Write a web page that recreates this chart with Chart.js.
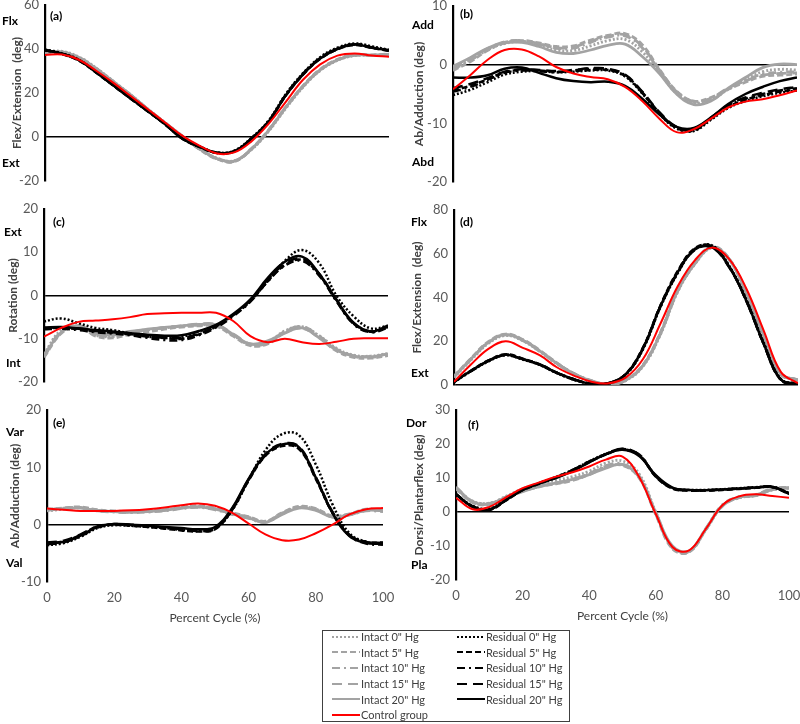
<!DOCTYPE html>
<html>
<head>
<meta charset="utf-8">
<script src="https://cdn.jsdelivr.net/npm/chart.js@4.4.0/dist/chart.umd.min.js"></script>
<style>
  body { margin: 0; background: #fff; }
  #wrap { position: relative; width: 800px; height: 724px; overflow: hidden; }
  #wrap canvas { position: absolute; left: 0; top: 0; }
  #legend {
    position: absolute; left: 322px; top: 630px; width: 246px; height: 90px;
    border: 1px solid #404040; font: 11px Lato, "Liberation Sans", sans-serif; color: #404040;
  }
  #legend .grid { display: grid; grid-template-columns: 125px 120px; margin-top: -2px; padding-left: 9px; }
  #legend .item { display: flex; align-items: center; height: 15.6px; white-space: nowrap; }
  #legend svg { margin-right: 1px; }
</style>
</head>
<body>
<div id="wrap">
  <div id="legend"><div class="grid"></div></div>
</div>
<script>
const percentCycle = [0, 5, 10, 15, 20, 25, 30, 35, 40, 45, 50, 55, 60, 65, 70, 75, 80, 85, 90, 95, 100];
const seriesNames = ['Intact 0" Hg', 'Intact 5" Hg', 'Intact 10" Hg', 'Intact 15" Hg', 'Intact 20" Hg',
  'Residual 0" Hg', 'Residual 5" Hg', 'Residual 10" Hg', 'Residual 15" Hg', 'Residual 20" Hg', 'Control group'];

// (a) Flex/Extension
const aIntact0 = [38.8, 38.9, 36.3, 31.2, 25.2, 19.1, 12.6, 6.4, 0.4, -5.3, -9.6, -10.8, -5.8, 2.6, 13, 22.6, 30.2, 34.8, 37, 37.1, 37.5];
const aIntact5 = [38.3, 38.5, 35.8, 30.8, 24.8, 18.8, 12.3, 6.1, 0.1, -5.7, -10, -11.2, -5.3, 3.2, 13.7, 23.3, 30.8, 35.3, 37.4, 37.3, 37.7];
const aIntact10 = [38.6, 38.6, 36.1, 31.1, 25.1, 19, 12.4, 6.2, 0.2, -5.6, -9.9, -11.1, -5.6, 2.9, 13.4, 22.9, 30.4, 35.1, 37.3, 37.2, 37.5];
const aIntact15 = [38.4, 38.6, 35.9, 30.9, 24.9, 18.9, 12.5, 6.4, 0.3, -5.4, -9.7, -10.9, -5.4, 3.1, 13.6, 23.1, 30.6, 35, 37.1, 37.1, 37.6];
const aIntact20 = [38.5, 38.7, 36, 31, 25, 19, 12.5, 6.3, 0.3, -5.5, -9.8, -11, -5.5, 3, 13.5, 23, 30.5, 35, 37.2, 37.2, 37.6];
const aResidual0 = [39.8, 38, 35, 29.4, 23.5, 17.6, 11.8, 5.9, -0.6, -4.3, -7, -6.2, -0.4, 7.5, 19.5, 29, 36.3, 40.6, 42.5, 41.2, 39.6];
const aResidual5 = [39.4, 37.7, 34.6, 29.1, 23.2, 17.3, 11.5, 5.6, -0.9, -4.6, -7.3, -6.6, -0.9, 6.9, 18.8, 28.3, 35.5, 39.8, 41.8, 40.5, 39.2];
const aResidual10 = [39.6, 37.9, 34.7, 29.3, 23.4, 17.5, 11.7, 5.8, -0.7, -4.4, -7.1, -6.4, -0.7, 7.2, 19.2, 28.7, 35.9, 40.2, 42.2, 40.8, 39.4];
const aResidual15 = [39.5, 37.8, 34.8, 29.2, 23.3, 17.4, 11.6, 5.7, -0.8, -4.5, -7.2, -6.5, -0.8, 7.1, 19.1, 28.6, 35.8, 40.1, 42.1, 40.7, 39.3];
const aResidual20 = [39.5, 37.8, 34.8, 29.2, 23.3, 17.4, 11.6, 5.7, -0.8, -4.5, -7.2, -6.5, -0.8, 7, 19, 28.5, 35.7, 40, 42, 40.6, 39.3];
const aControl = [37.3, 37.5, 35, 30, 24.5, 18.5, 12.5, 6.5, 0.5, -4, -7.5, -7, -2, 6, 16, 26, 33, 37, 38, 37, 36.5];

// (b) Ab/Adduction
const bIntact0 = [-0.5, 0.8, 2.5, 3.6, 3.9, 3.3, 2.5, 2.4, 3.2, 4.1, 4.3, 2.2, -1.3, -4.9, -6.5, -6, -4.2, -2.6, -1.2, -0.8, -0.9];
const bIntact5 = [-1, 0.5, 2.4, 3.7, 4.1, 3.7, 3.1, 3.2, 4.2, 5, 5.3, 3.4, -0.8, -4.5, -6.2, -5.6, -4.2, -3, -2, -1.8, -1.6];
const bIntact10 = [-0.8, 0.7, 2.6, 3.8, 4, 3.5, 2.8, 2.8, 3.8, 4.7, 4.9, 2.9, -1, -4.7, -6.3, -5.8, -4.1, -2.7, -1.6, -1.3, -1.2];
const bIntact15 = [-0.6, 0.9, 2.7, 3.9, 4.1, 3.6, 2.9, 3, 4, 4.8, 5.1, 3.1, -0.9, -4.6, -6.3, -5.7, -4, -2.8, -1.8, -1.5, -1.4];
const bIntact20 = [-0.3, 1.2, 2.8, 3.7, 3.8, 3.1, 2.1, 1.9, 2.5, 3.3, 3.5, 1.4, -1.5, -5, -6.8, -6.2, -4, -2.2, -0.5, 0.1, 0];
const bResidual0 = [-5.2, -4.3, -3, -1.7, -1.2, -1.1, -1.3, -1.2, -1, -1, -2, -4.9, -8.4, -10.9, -11.3, -9.4, -7.4, -6.2, -5.4, -4.8, -4.4];
const bResidual5 = [-4.4, -3.6, -2.5, -1.3, -0.9, -1, -1.2, -1.1, -0.9, -0.9, -1.9, -4.8, -8.3, -10.8, -11.2, -9.2, -7.2, -6, -5.2, -4.6, -4.2];
const bResidual10 = [-4.6, -3.8, -2.6, -1.4, -1, -1.1, -1.3, -1, -0.7, -0.8, -1.8, -4.7, -8.2, -10.7, -11.1, -9.1, -7, -5.8, -5, -4.4, -4];
const bResidual15 = [-4, -3.3, -2.3, -1.2, -0.8, -0.9, -1.1, -0.9, -0.6, -0.7, -1.7, -4.6, -8.1, -10.6, -11, -9, -6.9, -5.6, -4.8, -4.2, -3.8];
const bResidual20 = [-2.2, -2.2, -1.8, -0.7, -0.5, -1.4, -2.3, -2.8, -3, -2.9, -3.6, -5.8, -8.5, -10.6, -10.8, -9, -6.7, -5, -3.8, -2.8, -2.2];
const bControl = [-4.2, -1.8, 0.8, 2.5, 2.6, 1.4, -0.4, -1.5, -2.1, -2.5, -3.8, -6.2, -9.2, -11.5, -11, -9.2, -7.3, -6.3, -5.9, -5.2, -4.4];

// (c) Rotation
const cIntact0 = [-13.5, -8, -7.2, -9.2, -9.5, -8.6, -8, -7.5, -7.1, -6.8, -7, -9.2, -11.4, -10.8, -8.2, -7.2, -9.3, -12.2, -13.8, -14, -13.4];
const cIntact5 = [-14.3, -8.8, -7.1, -9.4, -9.8, -9, -8.4, -7.8, -7.3, -7, -7.1, -9.4, -11.6, -11.2, -8.6, -7.6, -9.8, -12.8, -14.3, -14.5, -13.9];
const cIntact10 = [-14.1, -8.6, -7, -9, -9.3, -8.5, -7.9, -7.5, -7.1, -6.8, -6.9, -9.1, -11.4, -11, -8.4, -7.3, -9.5, -12.5, -14.1, -14.3, -13.7];
const cIntact15 = [-13.8, -8.4, -6.9, -8.9, -9.1, -8.4, -7.9, -7.4, -7, -6.6, -6.7, -8.9, -11.2, -10.9, -8.3, -7.2, -9.4, -12.4, -13.9, -14.1, -13.5];
const cIntact20 = [-14, -8.5, -7, -8.8, -9, -8.3, -7.8, -7.4, -7, -6.7, -6.8, -9, -11.2, -10.5, -8.7, -7.5, -9.8, -12.6, -14, -14.2, -13.5];
const cResidual0 = [-6, -5.3, -6.4, -7.5, -8, -8.8, -9.5, -9.8, -9.6, -8.3, -6.9, -4.5, -1.2, 3.3, 8, 10.5, 7.5, 0, -4.8, -7.6, -7];
const cResidual5 = [-7.6, -7.5, -7.8, -8.3, -8.6, -9, -9.5, -9.8, -10, -9, -7.2, -4.6, -1.3, 3.3, 7, 8.2, 4.8, -1.2, -6.5, -8.4, -7.3];
const cResidual10 = [-7.8, -7.7, -8, -8.5, -8.8, -9.2, -9.8, -10.3, -10.3, -9.2, -7.4, -4.8, -1.4, 3.2, 6.9, 8, 4.6, -1.3, -6.6, -8.5, -7.5];
const cResidual15 = [-7.5, -7.4, -7.7, -8.2, -8.5, -8.9, -9.4, -9.7, -9.8, -8.8, -7.1, -4.5, -1.1, 3.6, 7.3, 8.5, 5, -1, -6.4, -8.3, -7.2];
const cResidual20 = [-7.4, -7.3, -7.6, -8, -8.3, -8.7, -9.1, -9.3, -9.2, -8.2, -6.8, -4.3, -0.9, 4, 7.8, 9, 5, -1, -6.3, -8.3, -7];
const cControl = [-9.5, -7.5, -6.1, -5.8, -5.5, -5, -4.3, -4.1, -4, -4, -4, -5.9, -9.4, -10.8, -10, -10.8, -11.2, -10.7, -10, -9.9, -9.9];

// (d) Flex/Extension
const dIntact0 = [3.5, 11.5, 19, 22.6, 20.2, 15.2, 9.6, 4.8, 1.6, 0.2, 2.1, 8.6, 23, 42.5, 55.2, 62.6, 57.2, 42.3, 23.3, 5.3, 2];
const dIntact5 = [4, 12.3, 19.8, 23.3, 20.8, 15.8, 10, 5.2, 2, 0.4, 2.5, 9.3, 24, 43.5, 55.8, 63.3, 57.7, 41.8, 22.7, 4.8, 2.5];
const dIntact10 = [3.9, 12.1, 19.6, 23.1, 20.6, 15.6, 9.9, 5.1, 1.9, 0.3, 2.4, 9.1, 23.7, 43.2, 55.6, 63.1, 57.6, 41.9, 22.9, 4.9, 2.4];
const dIntact15 = [3.7, 11.8, 19.4, 22.9, 20.4, 15.4, 9.7, 4.9, 1.7, 0.2, 2.2, 8.9, 23.3, 42.8, 55.4, 62.9, 57.4, 42.1, 23.1, 5.1, 2.2];
const dIntact20 = [3.8, 12, 19.5, 23, 20.5, 15.5, 9.8, 5, 1.8, 0.3, 2.3, 9, 23.5, 43, 55.5, 63, 57.5, 42, 23, 5, 2.3];
const dResidual0 = [1.3, 6.3, 10.8, 13.6, 11.6, 9.1, 5.3, 2.3, 0.4, 0.7, 4.8, 16.5, 35.5, 51, 62, 63.8, 54.5, 39, 19.5, 2.8, 0.6];
const dResidual5 = [1.6, 6.6, 11.2, 14, 12, 9.4, 5.6, 2.6, 0.6, 0.9, 5.2, 17.3, 36.3, 52, 62.5, 63.5, 54.2, 38.3, 18.8, 2.3, 0.4];
const dResidual10 = [1.5, 6.4, 11.1, 13.9, 11.9, 9.2, 5.4, 2.4, 0.5, 0.8, 5.1, 17.1, 36.1, 51.7, 62.2, 63.2, 54.1, 38.6, 19.1, 2.4, 0.5];
const dResidual15 = [1.4, 6.5, 11, 13.7, 11.7, 9.3, 5.5, 2.5, 0.5, 0.8, 4.9, 16.8, 35.8, 51.3, 61.8, 62.8, 53.8, 38.4, 18.9, 2.5, 0.5];
const dResidual20 = [1.5, 6.5, 11, 13.8, 11.8, 9.3, 5.5, 2.5, 0.5, 0.8, 5, 17, 36, 51.5, 62, 63, 54, 38.5, 19, 2.5, 0.5];
const dControl = [1.5, 9.5, 16.5, 20, 17, 13.5, 8, 4.2, 1.5, 0.8, 3.5, 12, 28, 45, 57, 62.8, 57.5, 44, 25, 6, 0.8];

// (e) Ab/Adduction
const eIntact0 = [2.4, 2.7, 3, 2.5, 2.3, 2.2, 2.4, 2.6, 3, 3.2, 2.8, 2, 1.3, 0.5, 2, 3.1, 2.7, 1.4, 1.8, 2.6, 2.5];
const eIntact5 = [2.7, 2.9, 3.1, 2.6, 2.4, 2.3, 2.4, 2.6, 3, 3.3, 2.9, 2.1, 1.4, 0.6, 2.1, 3.2, 2.8, 1.5, 1.9, 2.7, 2.6];
const eIntact10 = [2.5, 2.8, 2.9, 2.4, 2.2, 2.1, 2.2, 2.4, 2.8, 3, 2.6, 1.8, 1.1, 0.4, 1.9, 3, 2.6, 1.3, 1.7, 2.4, 2.3];
const eIntact15 = [2.6, 2.9, 3, 2.5, 2.3, 2.2, 2.3, 2.5, 2.9, 3.1, 2.7, 1.9, 1.2, 0.5, 2, 3, 2.6, 1.4, 1.8, 2.5, 2.4];
const eIntact20 = [2.6, 2.8, 2.9, 2.4, 2.3, 2.2, 2.3, 2.5, 2.9, 3.1, 2.7, 1.9, 1.2, 0.4, 1.8, 2.9, 2.5, 1.3, 1.7, 2.5, 2.4];
const eResidual0 = [-3.6, -3.2, -2.1, -0.6, -0.1, -0.2, -0.4, -0.6, -0.9, -1.1, -0.7, 2.4, 7.8, 13, 15.8, 15.6, 10.5, 3.5, -1.5, -3, -3.4];
const eResidual5 = [-3.2, -2.9, -1.8, -0.3, 0, -0.2, -0.4, -0.7, -1, -1.2, -0.8, 2.5, 7.7, 12, 13.7, 13.2, 8, 2.1, -1.8, -3, -3.1];
const eResidual10 = [-3.4, -3.1, -2, -0.5, 0, -0.1, -0.3, -0.5, -0.8, -1, -0.6, 2.6, 7.8, 12.1, 13.9, 13.4, 8.1, 2, -1.9, -3.3, -3.5];
const eResidual15 = [-3.1, -2.8, -1.7, -0.3, 0.1, 0, -0.2, -0.5, -0.8, -1.1, -0.7, 2.7, 7.9, 12.3, 14.1, 13.6, 8.3, 2.2, -1.8, -3, -3.2];
const eResidual20 = [-3.3, -3, -1.9, -0.4, 0.1, 0, -0.2, -0.4, -0.6, -0.8, -0.4, 2.8, 8, 12.2, 14, 13.5, 8.2, 2, -2, -3.2, -3.3];
const eControl = [2.8, 2.6, 2.4, 2.4, 2.4, 2.5, 2.7, 3, 3.4, 3.7, 3.3, 2.1, 0.2, -1.7, -2.7, -2.6, -1.5, 0, 1.8, 2.7, 2.9];

// (f) Dorsi/Plantarflex
const fIntact0 = [7, 3.2, 2.6, 4.6, 6.8, 8.2, 9.3, 10.4, 12, 14.4, 15, 11.2, 0, -10.3, -11.6, -5.3, 1.8, 4.2, 4.8, 6.5, 7];
const fIntact5 = [6.8, 2.8, 2.2, 4.1, 6.1, 7.4, 8.3, 9.3, 11, 13.2, 13.7, 10, -0.8, -10.8, -11.8, -5.2, 1.7, 4.2, 4.8, 6.6, 7];
const fIntact10 = [7.3, 3.1, 2.5, 4.4, 6.4, 7.7, 8.6, 9.6, 11.3, 13.6, 14.1, 10.6, -0.4, -10.4, -11.4, -4.9, 2.1, 4.5, 5.1, 6.9, 7.3];
const fIntact15 = [7.1, 2.9, 2.3, 4.2, 6.2, 7.5, 8.4, 9.4, 11.1, 13.4, 13.9, 10.4, -0.6, -10.6, -11.6, -5.1, 1.9, 4.3, 4.9, 6.7, 7.1];
const fIntact20 = [7.2, 3, 2.4, 4.3, 6, 7.5, 8.5, 9.6, 11, 12.9, 14, 10.2, -0.2, -10, -11.5, -5, 1.9, 4.3, 5, 6.6, 7.2];
const fResidual0 = [5, 1.8, 1, 3.7, 6.6, 8.5, 10.3, 12.4, 14.9, 17.1, 18.4, 16.6, 10.7, 7.1, 6.5, 6.5, 6.7, 7, 7.3, 7.3, 5.6];
const fResidual5 = [5.3, 1.5, 0.6, 3.4, 6.4, 8.3, 10.1, 12.2, 14.7, 16.9, 18.4, 16.7, 10.4, 6.9, 6.3, 6.3, 6.5, 6.8, 7.1, 7.3, 5.3];
const fResidual10 = [5.2, 1.7, 0.8, 3.6, 6.5, 8.4, 10.2, 12.3, 14.8, 17, 18.5, 16.9, 10.6, 7, 6.4, 6.4, 6.6, 6.9, 7.2, 7.5, 5.5];
const fResidual15 = [5.1, 1.6, 0.7, 3.5, 6.5, 8.4, 10.2, 12.3, 14.8, 17, 18.6, 16.8, 10.5, 7, 6.4, 6.4, 6.6, 6.9, 7.2, 7.4, 5.4];
const fResidual20 = [5.2, 1.6, 0.7, 3.5, 6.5, 8.5, 10, 12, 14.6, 17, 18.3, 16.5, 10.8, 7.2, 6.5, 6.4, 6.6, 6.9, 7.2, 7.4, 5.4];
const fControl = [4.2, 0.8, 1.5, 4.3, 7, 8.7, 10.4, 11.7, 13.4, 15.4, 16.3, 10.3, -0.6, -10.3, -11.3, -5, 2, 4.6, 5.2, 4.7, 4.2];

const GRAY = '#a3a3a3';
const lineStyles = [
  { color: GRAY, width: 2.8, dash: [2, 2], order: 2 },
  { color: GRAY, width: 2.8, dash: [6, 3], order: 2 },
  { color: GRAY, width: 2.8, dash: [8, 4, 2, 4], order: 2 },
  { color: GRAY, width: 2.8, dash: [10, 6], order: 2 },
  { color: GRAY, width: 2.8, dash: [], order: 2 },
  { color: '#000', width: 2.5, dash: [2, 2], order: 1 },
  { color: '#000', width: 2.5, dash: [6, 3], order: 1 },
  { color: '#000', width: 2.5, dash: [8, 4, 2, 4], order: 1 },
  { color: '#000', width: 2.5, dash: [10, 6], order: 1 },
  { color: '#000', width: 2.5, dash: [], order: 1 },
  { color: '#ff0000', width: 2, dash: [], order: 0 }
];

const FONT = 'Lato, "Liberation Sans", sans-serif';

const panels = [
  { series: [aIntact0, aIntact5, aIntact10, aIntact15, aIntact20, aResidual0, aResidual5, aResidual10, aResidual15, aResidual20, aControl],
    yMin: -20, yMax: 60, step: 20, title: 'Flex/Extension  (deg)', titleX: 17,
    area: { left: 45, top: 5, right: 389, bottom: 181 }, xTicks: false,
    labels: [['(a)', 50, 16], ['Flx', 2, 21], ['Ext', 2, 163]] },
  { series: [bIntact0, bIntact5, bIntact10, bIntact15, bIntact20, bResidual0, bResidual5, bResidual10, bResidual15, bResidual20, bControl],
    yMin: -20, yMax: 10, step: 10, title: 'Ab/Adduction (deg)', titleX: 419,
    area: { left: 453, top: 6, right: 797, bottom: 182 }, xTicks: false,
    labels: [['(b)', 460, 14], ['Add', 412, 25], ['Abd', 412, 162]] },
  { series: [cIntact0, cIntact5, cIntact10, cIntact15, cIntact20, cResidual0, cResidual5, cResidual10, cResidual15, cResidual20, cControl],
    yMin: -20, yMax: 20, step: 10, title: 'Rotation (deg)', titleX: 13,
    area: { left: 44, top: 209, right: 388, bottom: 382 }, xTicks: false,
    labels: [['(c)', 53, 222], ['Ext', 4, 232], ['Int', 6, 363]] },
  { series: [dIntact0, dIntact5, dIntact10, dIntact15, dIntact20, dResidual0, dResidual5, dResidual10, dResidual15, dResidual20, dControl],
    yMin: 0, yMax: 80, step: 20, title: 'Flex/Extension  (deg)', titleX: 417,
    area: { left: 454, top: 210, right: 798, bottom: 385 }, xTicks: false,
    labels: [['(d)', 460, 222], ['Flx', 411, 222], ['Ext', 411, 373]] },
  { series: [eIntact0, eIntact5, eIntact10, eIntact15, eIntact20, eResidual0, eResidual5, eResidual10, eResidual15, eResidual20, eControl],
    yMin: -10, yMax: 20, step: 10, title: 'Ab/Adduction (deg)', titleX: 15,
    area: { left: 47, top: 410, right: 383, bottom: 582 }, xTicks: true,
    labels: [['(e)', 53, 423], ['Var', 6, 432], ['Val', 6, 563]] },
  { series: [fIntact0, fIntact5, fIntact10, fIntact15, fIntact20, fResidual0, fResidual5, fResidual10, fResidual15, fResidual20, fControl],
    yMin: -20, yMax: 30, step: 10, title: 'Dorsi/Plantarflex (deg)', titleX: 419,
    area: { left: 456, top: 410, right: 789, bottom: 580 }, xTicks: true,
    labels: [['(f)', 468, 425], ['Dor', 406, 423], ['Pla', 411, 565]] }
];

const panelLabels = {
  id: 'panelLabels',
  afterDraw(chart, args, opts) {
    const ctx = chart.ctx;
    ctx.save();
    ctx.font = 'bold 12px ' + FONT;
    ctx.fillStyle = '#000';
    ctx.textBaseline = 'middle';
    opts.items.forEach(([t, x, y]) => ctx.fillText(t, x, y));
    ctx.restore();
  }
};

const wrap = document.getElementById('wrap');
const X_AXIS_H = 45;

panels.forEach(p => {
  const canvas = document.createElement('canvas');
  canvas.width = 800;
  canvas.height = 724;
  wrap.insertBefore(canvas, wrap.firstChild);
  const padLeft = p.titleX - 7.2;
  new Chart(canvas.getContext('2d'), {
    type: 'line',
    data: {
      datasets: p.series.map((vals, i) => ({
        label: seriesNames[i],
        data: vals.map((v, k) => ({ x: percentCycle[k], y: v })),
        borderColor: lineStyles[i].color,
        borderWidth: lineStyles[i].width,
        borderDash: lineStyles[i].dash,
        order: lineStyles[i].order,
        pointRadius: 0,
        tension: 0.4,
        fill: false
      }))
    },
    options: {
      responsive: false,
      animation: false,
      events: [],
      layout: { padding: { left: padLeft, top: p.area.top, right: 800 - p.area.right,
        bottom: 724 - p.area.bottom - (p.xTicks ? X_AXIS_H : 0) } },
      plugins: {
        legend: { display: false },
        tooltip: { enabled: false },
        panelLabels: { items: p.labels }
      },
      scales: {
        x: {
          type: 'linear', min: 0, max: 100, display: p.xTicks,
          ticks: { stepSize: 20, padding: 8, color: '#595959', font: { family: FONT, size: 13 } },
          grid: { display: false, drawTicks: false },
          border: { display: false },
          title: { display: true, text: 'Percent Cycle (%)', color: '#404040', padding: { top: 0, bottom: 2 },
            font: { family: FONT, size: 12 } },
          afterFit: s => {
            if (!p.xTicks) return;
            s.height = X_AXIS_H; s.paddingLeft = 0; s.paddingRight = 0;
          }
        },
        y: {
          min: p.yMin, max: p.yMax,
          ticks: { stepSize: p.step, padding: 6, color: '#595959', font: { family: FONT, size: 13 } },
          grid: { drawTicks: false, lineWidth: 1.5,
            color: c => (c.tick && c.tick.value === 0) ? '#000' : 'rgba(0,0,0,0)' },
          border: { display: true, color: '#000', width: 2.2 },
          title: { display: true, text: p.title, color: '#404040', padding: { top: 0, bottom: 0 },
            font: { family: FONT, size: 12, weight: 'bold' } },
          afterFit: s => { s.width = p.area.left - padLeft; s.paddingTop = 0; s.paddingBottom = 0; }
        }
      }
    },
    plugins: [panelLabels]
  });
});

// legend
const grid = document.querySelector('#legend .grid');
const legendOrder = [0, 5, 1, 6, 2, 7, 3, 8, 4, 9, 10];
legendOrder.forEach(i => {
  const st = lineStyles[i];
  const item = document.createElement('div');
  item.className = 'item';
  const dash = st.dash.length ? st.dash.join(' ') : 'none';
  item.innerHTML = '<svg width="28" height="8"><line x1="0" y1="4" x2="28" y2="4" stroke="' + st.color +
    '" stroke-width="' + Math.min(st.width, 2) + '" stroke-dasharray="' + dash + '"/></svg>';
  const span = document.createElement('span');
  span.textContent = seriesNames[i];
  item.appendChild(span);
  grid.appendChild(item);
});
</script>
</body>
</html>
